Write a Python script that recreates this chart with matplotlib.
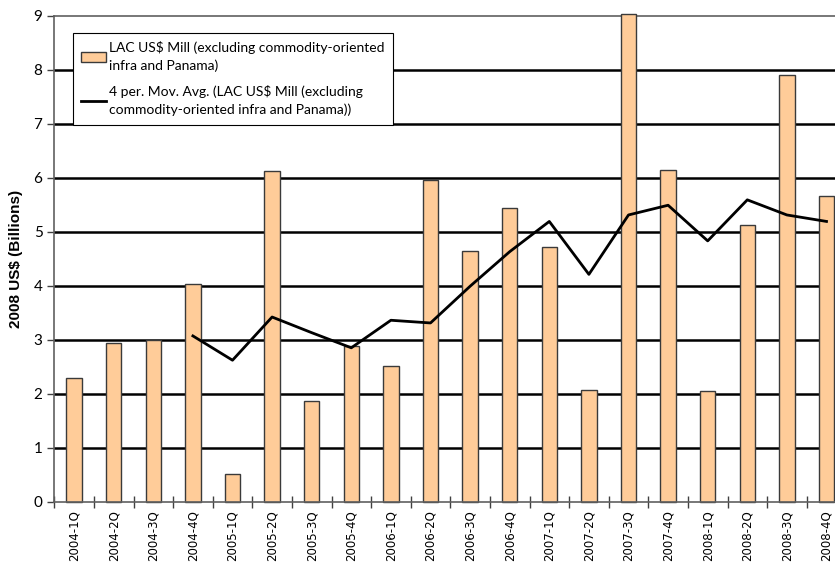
import matplotlib
matplotlib.use("Agg")
import matplotlib.pyplot as plt
from matplotlib.patches import Patch
from matplotlib.lines import Line2D

quarters = ["2004-1Q", "2004-2Q", "2004-3Q", "2004-4Q",
            "2005-1Q", "2005-2Q", "2005-3Q", "2005-4Q",
            "2006-1Q", "2006-2Q", "2006-3Q", "2006-4Q",
            "2007-1Q", "2007-2Q", "2007-3Q", "2007-4Q",
            "2008-1Q", "2008-2Q", "2008-3Q", "2008-4Q"]
lac_values = [2.29, 2.93, 2.99, 4.04, 0.51, 6.12, 1.86, 2.89, 2.52, 5.95,
              4.64, 5.43, 4.71, 2.07, 9.03, 6.15, 2.05, 5.12, 7.90, 5.66]
ma_quarters = quarters[3:]
ma_values = [3.07, 2.62, 3.42, 3.13, 2.85, 3.36, 3.31, 3.99, 4.63, 5.19,
             4.21, 5.31, 5.49, 4.83, 5.59, 5.31, 5.19]
y_ticks = [0, 1, 2, 3, 4, 5, 6, 7, 8, 9]

bar_label = "LAC US$ Mill (excluding commodity-oriented\ninfra and Panama)"
ma_label = "4 per. Mov. Avg. (LAC US$ Mill (excluding\ncommodity-oriented infra and Panama))"

fig = plt.figure(figsize=(8.35, 5.62), dpi=100)
ax = fig.add_axes([54.3 / 835, 60.3 / 562, 792 / 835, 486 / 562])

x = list(range(len(quarters)))
ma_x = [quarters.index(q) for q in ma_quarters]

for t in y_ticks[1:-1]:
    ax.axhline(t, color="black", linewidth=1.8, zorder=1)
ax.bar(x, lac_values, width=0.39, color="#FFCC99", edgecolor="#3a3a3a",
       linewidth=1.0, zorder=2, clip_on=False)
ax.plot(ma_x, ma_values, color="black", linewidth=2.0, zorder=3)

ax.set_xlim(-0.5, len(quarters) - 0.5)
ax.set_ylim(0, 9)
ax.set_yticks(y_ticks)
ax.set_yticklabels([str(t) for t in y_ticks], fontfamily="Lato", fontsize=11)
ax.set_xticks(x)
ax.set_xticklabels(quarters, rotation=90, fontfamily="DejaVu Sans", fontsize=8.5)
ax.set_xticks([i - 0.5 for i in range(len(quarters) + 1)], minor=True)
ax.tick_params(axis="x", which="major", length=0, pad=6)
ax.tick_params(axis="x", which="minor", direction="inout", length=9,
               color="#404040", width=1)
ax.tick_params(axis="y", direction="out", length=5, color="#404040", width=1)

ax.spines["right"].set_visible(False)
for side in ["left", "bottom", "top"]:
    ax.spines[side].set_color("#606060")
    ax.spines[side].set_linewidth(1.2)
ax.spines["top"].set_zorder(1)

ax.set_ylabel("2008 US$ (Billions)", fontfamily="Liberation Sans",
              fontweight="bold", fontsize=11, labelpad=8)

handles = [Patch(facecolor="#FFCC99", edgecolor="#3a3a3a", linewidth=1.0),
           Line2D([0], [0], color="black", linewidth=2.0)]
leg = ax.legend(handles, [bar_label, ma_label], loc="upper left",
                bbox_to_anchor=(0.0236, 0.9644), borderaxespad=0,
                prop={"family": "Lato", "size": 10}, fancybox=False,
                framealpha=1, edgecolor="black", handlelength=1.8,
                handletextpad=0.2, borderpad=0.6, labelspacing=0.95)
leg.get_frame().set_linewidth(0.8)
for txt in leg.get_texts():
    txt.set_linespacing(1.5)

fig.savefig("out.png", dpi=100)
